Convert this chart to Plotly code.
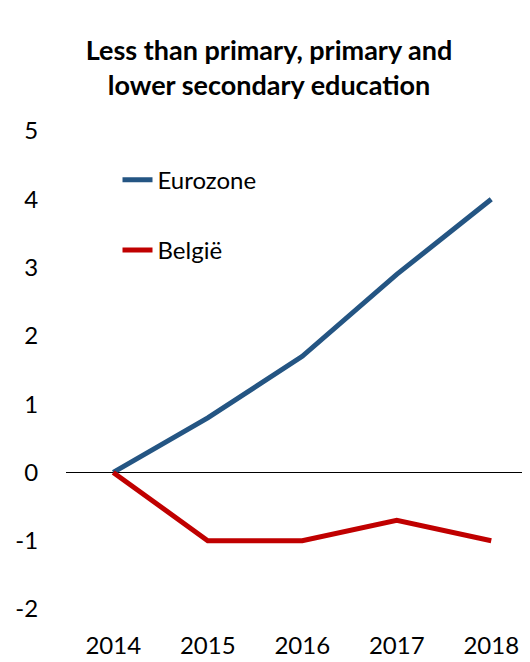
import plotly.graph_objects as go

years = [2014, 2015, 2016, 2017, 2018]
eurozone = [0, 0.8, 1.7, 2.9, 4.0]
belgie = [0, -1.0, -1.0, -0.7, -1.0]
y_ticks = [-2, -1, 0, 1, 2, 3, 4, 5]

font_name = "Lato, Open Sans, sans-serif"

# page body adds an 8px margin, so the figure is 8px smaller each way
W, H = 522, 654

fig = go.Figure()
fig.add_trace(go.Scatter(x=years, y=eurozone, mode="lines", name="Eurozone",
                         line=dict(color="#245583", width=5), legendgroup="a"))
fig.add_trace(go.Scatter(x=years, y=belgie, mode="lines", name="België",
                         line=dict(color="#C00000", width=5), legendgroup="b"))

fig.update_layout(
    width=W, height=H,
    margin=dict(l=58, r=0, t=123, b=53),
    plot_bgcolor="white", paper_bgcolor="white",
    font=dict(family=font_name, size=24, color="black"),
    title=dict(text="<b>Less than primary, primary and<br>lower secondary education</b>",
               x=265 / 530, xanchor="center", y=1 - 52 / H, yanchor="middle",
               yref="container", font=dict(size=27, family=font_name)),
    showlegend=True,
    legend=dict(x=0.111, y=0.944, xanchor="left", yanchor="top", bgcolor="rgba(0,0,0,0)",
                tracegroupgap=36, font=dict(size=24)),
    xaxis=dict(range=[2013.5, 2013.5 + 464 / 94.5], tickvals=years, showgrid=False,
               zeroline=False, showline=False, ticks="outside", ticklen=15,
               tickcolor="rgba(0,0,0,0)"),
    yaxis=dict(range=[-2, 5], tickvals=y_ticks, ticktext=[str(v) for v in y_ticks],
               showgrid=False, zeroline=True,
               zerolinecolor="black", zerolinewidth=1, showline=False,
               ticks="outside", ticklen=22, tickcolor="rgba(0,0,0,0)"),
)

fig.write_html("out.html")
